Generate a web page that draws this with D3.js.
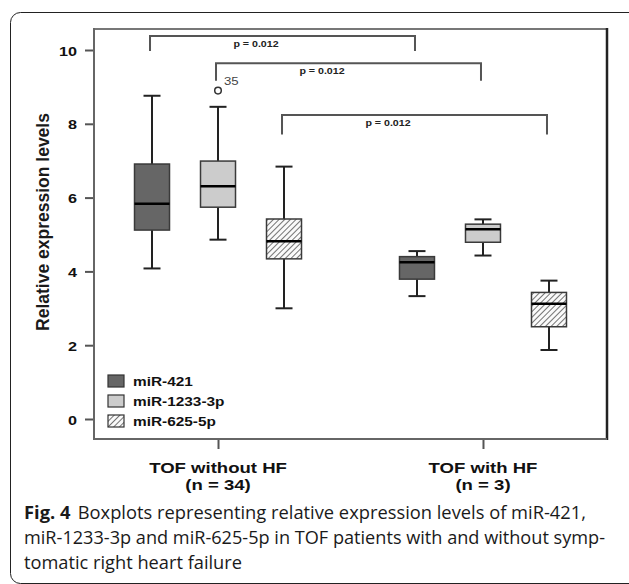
<!DOCTYPE html>
<html>
<head>
<meta charset="utf-8">
<script src="https://cdn.jsdelivr.net/npm/d3@7"></script>
<style>
  body { margin: 0; background: #fff; }
  svg { display: block; }
</style>
</head>
<body>
<div id="chart"></div>
<script>
// data
const groups = ["TOF without HF", "TOF with HF"];
const groupN = ["(n = 34)", "(n = 3)"];
const series = ["miR-421", "miR-1233-3p", "miR-625-5p"];
// [min, q1, median, q3, max] per group
const mir421 = [[4.08, 5.12, 5.83, 6.91, 8.76], [3.33, 3.79, 4.25, 4.40, 4.55]];
const mir1233 = [[4.86, 5.74, 6.31, 6.99, 8.46], [4.43, 4.79, 5.14, 5.28, 5.41]];
const mir625 = [[3.00, 4.34, 4.82, 5.42, 6.84], [1.87, 2.50, 3.12, 3.43, 3.75]];
const outliers = [{ series: "miR-1233-3p", group: "TOF without HF", value: 8.90, label: "35" }];
// significance brackets: series compared across groups, bar level, leg end
const brackets = [
  { series: "miR-421", top: 10.38, leg: 9.97, label: "p = 0.012" },
  { series: "miR-1233-3p", top: 9.64, leg: 9.17, label: "p = 0.012" },
  { series: "miR-625-5p", top: 8.24, leg: 7.71, label: "p = 0.012" }
];
const yTicks = [0, 2, 4, 6, 8, 10];

const stats = { "miR-421": mir421, "miR-1233-3p": mir1233, "miR-625-5p": mir625 };

const width = 629, height = 584;
const plot = { left: 94, right: 607, top: 29, bottom: 439 };

const svg = d3.select("#chart").append("svg")
  .attr("width", width)
  .attr("height", height)
  .style("font-family", "'Liberation Sans', Arial, sans-serif");

const defs = svg.append("defs");
const hatch = defs.append("pattern")
  .attr("id", "hatch")
  .attr("patternUnits", "userSpaceOnUse")
  .attr("width", 4).attr("height", 4)
  .attr("patternTransform", "rotate(45)");
hatch.append("rect").attr("width", 4).attr("height", 4).attr("fill", "#fafafa");
hatch.append("line")
  .attr("x1", 0).attr("y1", 0).attr("x2", 0).attr("y2", 4)
  .attr("stroke", "#3a3a3a").attr("stroke-width", 1.4);

const fills = { "miR-421": "#666666", "miR-1233-3p": "#cccccc", "miR-625-5p": "url(#hatch)" };

// outer rounded frame
svg.append("rect")
  .attr("x", 10.5).attr("y", 12.5)
  .attr("width", 632).attr("height", 571)
  .attr("rx", 10)
  .attr("fill", "none")
  .attr("stroke", "#222")
  .attr("stroke-width", 1);

const x = d3.scalePoint().domain(groups).range([plot.left, plot.right]).padding(0.468);
const xs = d3.scalePoint().domain(series).range([-66, 66]);
const y = d3.scaleLinear().domain([0, 10]).range([419, 50]);
const boxW = 35, capW = 17;

// stretched text helper (figure text is wider than normal)
function wideText(g, px, py, sx, txt) {
  return g.append("text")
    .attr("transform", `translate(${px},${py}) scale(${sx},1)`)
    .text(txt);
}

// plot frame
svg.append("line").attr("x1", plot.left).attr("x2", plot.right).attr("y1", plot.top).attr("y2", plot.top)
  .attr("stroke", "#777").attr("stroke-width", 2);
svg.append("line").attr("x1", plot.right).attr("x2", plot.right).attr("y1", plot.top - 1).attr("y2", plot.bottom + 1)
  .attr("stroke", "#222").attr("stroke-width", 2.5);

// y axis
const yAxis = svg.append("g")
  .attr("transform", `translate(${plot.left},0)`)
  .call(d3.axisLeft(y).tickValues(yTicks).tickSize(9).tickSizeOuter(0));
yAxis.select(".domain").remove();
svg.append("line").attr("x1", plot.left).attr("x2", plot.left).attr("y1", plot.top - 1).attr("y2", plot.bottom + 1)
  .attr("stroke", "#666").attr("stroke-width", 2);
yAxis.selectAll(".tick line").attr("stroke", "#555").attr("stroke-width", 2);
yAxis.selectAll(".tick text")
  .attr("x", null).attr("dy", null)
  .attr("transform", `translate(-17,5) scale(1.2,1)`)
  .attr("font-size", 13.5)
  .attr("font-weight", "bold")
  .attr("fill", "#111")
  .style("font-family", "'Liberation Sans', Arial, sans-serif");

// x axis
const xAxis = svg.append("g")
  .attr("transform", `translate(0,${plot.bottom})`)
  .call(d3.axisBottom(x).tickSize(10).tickSizeOuter(0).tickFormat(""));
xAxis.select(".domain").remove();
svg.append("line").attr("x1", plot.left - 1).attr("x2", plot.right).attr("y1", plot.bottom).attr("y2", plot.bottom)
  .attr("stroke", "#666").attr("stroke-width", 2);
xAxis.selectAll(".tick line").attr("stroke", "#555").attr("stroke-width", 2);

const xl = svg.append("g")
  .attr("font-size", 14.5).attr("font-weight", "bold").attr("fill", "#111")
  .attr("text-anchor", "middle");
groups.forEach((gName, i) => {
  wideText(xl, x(gName), 473, 1.28, gName);
  wideText(xl, x(gName), 490, 1.28, groupN[i]);
});

// y label
svg.append("text")
  .attr("transform", `translate(48.5,222) rotate(-90)`)
  .attr("text-anchor", "middle")
  .attr("font-size", 17.5)
  .attr("font-weight", "bold")
  .attr("fill", "#1a1a1a")
  .text("Relative expression levels");

// boxes
const boxes = svg.append("g");
series.forEach(s => {
  groups.forEach((gName, gi) => {
    const [mn, q1, md, q3, mx] = stats[s][gi];
    const cx = x(gName) + xs(s);
    const b = boxes.append("g");
    b.append("line").attr("x1", cx).attr("x2", cx).attr("y1", y(mx)).attr("y2", y(q3))
      .attr("stroke", "#222").attr("stroke-width", 2);
    b.append("line").attr("x1", cx).attr("x2", cx).attr("y1", y(q1)).attr("y2", y(mn))
      .attr("stroke", "#222").attr("stroke-width", 2);
    [mn, mx].forEach(v => {
      b.append("line").attr("x1", cx - capW / 2).attr("x2", cx + capW / 2).attr("y1", y(v)).attr("y2", y(v))
        .attr("stroke", "#222").attr("stroke-width", 2);
    });
    b.append("rect")
      .attr("x", cx - boxW / 2).attr("y", y(q3))
      .attr("width", boxW).attr("height", y(q1) - y(q3))
      .attr("fill", fills[s])
      .attr("stroke", "#3a3a3a").attr("stroke-width", 1.5);
    b.append("line").attr("x1", cx - boxW / 2).attr("x2", cx + boxW / 2).attr("y1", y(md)).attr("y2", y(md))
      .attr("stroke", "#000").attr("stroke-width", 2.5);
  });
});

// outliers
outliers.forEach(o => {
  const cx = x(o.group) + xs(o.series);
  svg.append("circle").attr("cx", cx).attr("cy", y(o.value)).attr("r", 3.3)
    .attr("fill", "#fff").attr("stroke", "#333").attr("stroke-width", 1.5);
  const t = wideText(svg, cx + 6, y(o.value) - 6, 1.15, o.label);
  t.attr("font-size", 11.5).attr("fill", "#444");
});

// significance brackets
const br = svg.append("g");
brackets.forEach(b => {
  const x1 = x(groups[0]) + xs(b.series) - 2;
  const x2 = x(groups[1]) + xs(b.series) - 2;
  br.append("path")
    .attr("d", `M${x1},${y(b.leg)}V${y(b.top)}H${x2}V${y(b.leg)}`)
    .attr("fill", "none").attr("stroke", "#555").attr("stroke-width", 2);
  const t = wideText(br, x1 + (x2 - x1) * 0.4, y(b.top) + 11, 1.12, b.label);
  t.attr("font-size", 9.5).attr("font-weight", "bold").attr("fill", "#222").attr("text-anchor", "middle");
});

// legend
const legend = svg.append("g").attr("transform", "translate(108,375)");
series.forEach((s, i) => {
  const row = legend.append("g").attr("transform", `translate(0,${i * 20})`);
  row.append("rect").attr("width", 16).attr("height", 12)
    .attr("fill", fills[s]).attr("stroke", "#333").attr("stroke-width", 1.2);
  const t = wideText(row, 25, 11, 1.14, s);
  t.attr("font-size", 13.5).attr("font-weight", "bold").attr("fill", "#111");
});

// caption
const cap = svg.append("g")
  .style("font-family", "'Open Sans', 'Noto Sans', sans-serif")
  .attr("font-size", 17.5).attr("fill", "#1a1a1a");
const l1 = cap.append("text").attr("x", 24).attr("y", 519);
l1.append("tspan").attr("font-weight", "bold").text("Fig. 4");
l1.append("tspan").attr("dx", 7).text("Boxplots representing relative expression levels of miR-421,");
cap.append("text").attr("x", 24).attr("y", 544)
  .text("miR-1233-3p and miR-625-5p in TOF patients with and without symp-");
cap.append("text").attr("x", 24).attr("y", 569)
  .text("tomatic right heart failure");
cap.selectAll("text").each(function () {
  // fit each caption line to the width it has in the figure
  const target = { 519: 562, 544: 581, 569: 218 }[d3.select(this).attr("y")];
  const w = this.getComputedTextLength();
  if (w > 0) d3.select(this).attr("textLength", target).attr("lengthAdjust", "spacingAndGlyphs");
});
</script>
</body>
</html>
